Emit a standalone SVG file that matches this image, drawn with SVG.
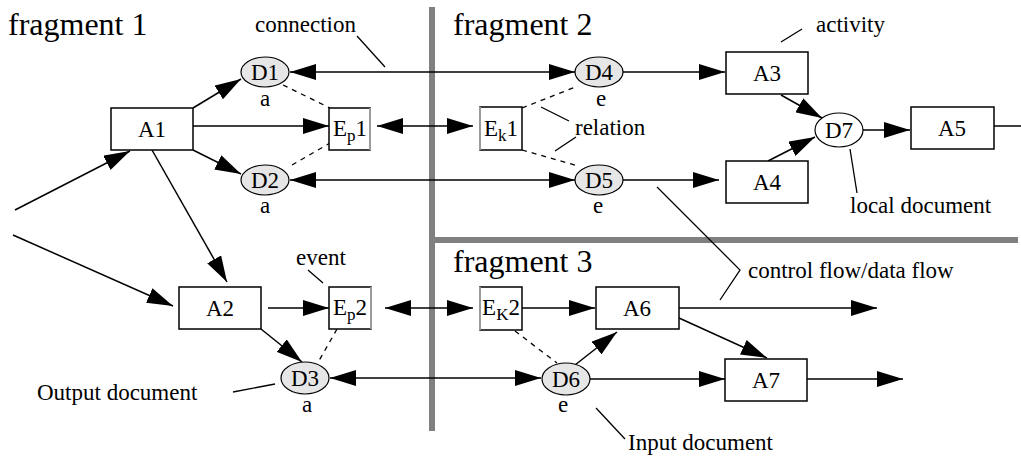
<svg xmlns="http://www.w3.org/2000/svg" width="1021" height="457" viewBox="0 0 1021 457">
<style>
text{font-family:"Liberation Serif","Times New Roman",serif;fill:#000}
.frag{font-size:32px}
.lbl{font-size:23px}
.nl{font-size:23px;text-anchor:middle}
.act{fill:#fff;stroke:#000;stroke-width:1.5}
.doc{fill:#e6e6e6;stroke:#000;stroke-width:1.2}
.ldoc{fill:#fff;stroke:#000;stroke-width:1.2}
.ev{fill:#fff;stroke:#000;stroke-width:1.5}
.evg{stroke:#bbb;stroke-width:1.5}
.c{fill:none;stroke:#000;stroke-width:1.5}
.a{marker-end:url(#ah)}
.b{marker-start:url(#ah);marker-end:url(#ah)}
.rel{fill:none;stroke:#000;stroke-width:1.3;stroke-dasharray:5 5}
.lead{fill:none;stroke:#000;stroke-width:1.3}
.bar{fill:#808080}
</style>
<defs>
<marker id="ah" markerUnits="userSpaceOnUse" markerWidth="26" markerHeight="16" refX="26" refY="8" orient="auto-start-reverse">
<path d="M0,0 L26,8 L0,16 z" fill="#000"/>
</marker>
</defs>
<rect width="1021" height="457" fill="#fff"/>
<g id="partitions">
<rect class="bar" x="429" y="7" width="6" height="424"/>
<rect class="bar" x="429" y="237" width="589" height="6"/>
</g>
<g id="titles">
<text class="frag" x="8" y="35">fragment 1</text>
<text class="frag" x="453" y="35">fragment 2</text>
<text class="frag" x="453" y="272">fragment 3</text>
</g>
<g id="connectors">
<line class="c a" x1="15" y1="210" x2="130" y2="151"/>
<line class="c a" x1="13" y1="235" x2="173" y2="306"/>
<line class="c a" x1="193" y1="108" x2="241" y2="79"/>
<line class="c a" x1="193" y1="126" x2="329" y2="126"/>
<line class="c a" x1="193" y1="150" x2="241" y2="174"/>
<line class="c a" x1="152" y1="150" x2="227" y2="282"/>
<line class="c b" x1="290" y1="72" x2="575" y2="72"/>
<line class="c b" x1="377" y1="126" x2="473" y2="126"/>
<line class="c b" x1="290" y1="180" x2="575" y2="180"/>
<line class="c a" x1="623" y1="72" x2="725" y2="72"/>
<line class="c a" x1="623" y1="180" x2="719" y2="180"/>
<line class="c a" x1="781" y1="95" x2="822" y2="118"/>
<line class="c a" x1="768" y1="161" x2="815" y2="137"/>
<line class="c a" x1="863" y1="130" x2="910" y2="130"/>
<line class="c" x1="994" y1="126" x2="1021" y2="126"/>
<line class="c a" x1="268" y1="308" x2="329" y2="308"/>
<line class="c b" x1="385" y1="308" x2="473" y2="308"/>
<line class="c a" x1="522" y1="308" x2="595" y2="308"/>
<line class="c a" x1="679" y1="308" x2="877" y2="308"/>
<line class="c a" x1="679" y1="318" x2="767" y2="358"/>
<line class="c a" x1="261" y1="329" x2="302" y2="362"/>
<line class="c b" x1="330" y1="378" x2="541" y2="378"/>
<line class="c a" x1="575" y1="365" x2="617" y2="332"/>
<line class="c a" x1="590" y1="379" x2="725" y2="379"/>
<line class="c a" x1="807" y1="379" x2="903" y2="379"/>
<line class="rel" x1="283" y1="85" x2="330" y2="108"/>
<line class="rel" x1="292" y1="165" x2="330" y2="143"/>
<line class="rel" x1="522" y1="108" x2="578" y2="86"/>
<line class="rel" x1="522" y1="150" x2="578" y2="166"/>
<line class="rel" x1="337" y1="329" x2="316" y2="366"/>
<line class="rel" x1="515" y1="331" x2="557" y2="363"/>
</g>
<g id="A1"><rect class="act" x="111" y="108" width="82" height="42"/><text class="nl" x="152" y="137">A1</text></g>
<g id="D1"><ellipse class="doc" cx="265" cy="72" rx="24" ry="15"/><text class="nl" x="265" y="80">D1</text><text class="nl" x="265" y="106">a</text></g>
<g id="D2"><ellipse class="doc" cx="265" cy="180" rx="24" ry="15"/><text class="nl" x="265" y="188">D2</text><text class="nl" x="265" y="213">a</text></g>
<g id="Ep1"><rect class="ev" x="329" y="108" width="41" height="42"/><line class="evg" x1="370" y1="108" x2="370" y2="150"/><text class="nl" x="350" y="136">E<tspan font-size="17" dy="5">p</tspan><tspan dy="-5">1</tspan></text></g>
<g id="Ek1"><rect class="ev" x="480" y="107" width="42" height="43"/><line class="evg" x1="480" y1="107" x2="480" y2="150"/><text class="nl" x="501" y="136">E<tspan font-size="17" dy="5">k</tspan><tspan dy="-5">1</tspan></text></g>
<g id="D4"><ellipse class="doc" cx="599" cy="72" rx="24" ry="15"/><text class="nl" x="599" y="80">D4</text><text class="nl" x="601" y="106">e</text></g>
<g id="D5"><ellipse class="doc" cx="599" cy="180" rx="24" ry="15"/><text class="nl" x="599" y="188">D5</text><text class="nl" x="598" y="213">e</text></g>
<g id="A3"><rect class="act" x="726" y="52" width="82" height="42"/><text class="nl" x="767" y="81">A3</text></g>
<g id="A4"><rect class="act" x="726" y="161" width="82" height="42"/><text class="nl" x="767" y="190">A4</text></g>
<g id="D7"><ellipse class="ldoc" cx="839" cy="130" rx="24" ry="17"/><text class="nl" x="839" y="138">D7</text></g>
<g id="A5"><rect class="act" x="911" y="107" width="83" height="42"/><text class="nl" x="952" y="136">A5</text></g>
<g id="A2"><rect class="act" x="179" y="287" width="82" height="42"/><text class="nl" x="220" y="316">A2</text></g>
<g id="Ep2"><rect class="ev" x="329" y="287" width="42" height="42"/><line class="evg" x1="371" y1="287" x2="371" y2="329"/><text class="nl" x="350" y="315">E<tspan font-size="17" dy="5">p</tspan><tspan dy="-5">2</tspan></text></g>
<g id="D3"><ellipse class="doc" cx="305" cy="378" rx="24" ry="16"/><text class="nl" x="305" y="386">D3</text><text class="nl" x="307" y="412">a</text></g>
<g id="Ek2"><rect class="ev" x="480" y="287" width="42" height="43"/><line class="evg" x1="480" y1="287" x2="480" y2="330"/><text class="nl" x="501" y="315">E<tspan font-size="17" dy="5">K</tspan><tspan dy="-5">2</tspan></text></g>
<g id="A6"><rect class="act" x="596" y="287" width="83" height="42"/><text class="nl" x="637" y="316">A6</text></g>
<g id="D6"><ellipse class="doc" cx="566" cy="379" rx="24" ry="16"/><text class="nl" x="566" y="387">D6</text><text class="nl" x="563" y="412">e</text></g>
<g id="A7"><rect class="act" x="725" y="359" width="82" height="42"/><text class="nl" x="766" y="388">A7</text></g>
<g id="annotations">
<text class="lbl" x="255" y="32">connection</text>
<line class="lead" x1="357" y1="36" x2="385" y2="67"/>
<text class="lbl" x="816" y="32">activity</text>
<line class="lead" x1="781" y1="42" x2="802" y2="29"/>
<text class="lbl" x="575" y="135">relation</text>
<line class="lead" x1="541" y1="107" x2="569" y2="121"/>
<line class="lead" x1="555" y1="151" x2="576" y2="137"/>
<text class="lbl" x="850" y="213">local document</text>
<line class="lead" x1="850" y1="149" x2="857" y2="193"/>
<text class="lbl" x="296" y="265">event</text>
<line class="lead" x1="308" y1="270" x2="323" y2="283"/>
<text class="lbl" x="748" y="278">control flow/data flow</text>
<polyline class="lead" points="657,187 740,270 720,300"/>
<text class="lbl" x="37" y="400">Output document</text>
<line class="lead" x1="233" y1="392" x2="275" y2="384"/>
<text class="lbl" x="628" y="450">Input document</text>
<line class="lead" x1="596" y1="408" x2="625" y2="439"/>
</g>
</svg>
